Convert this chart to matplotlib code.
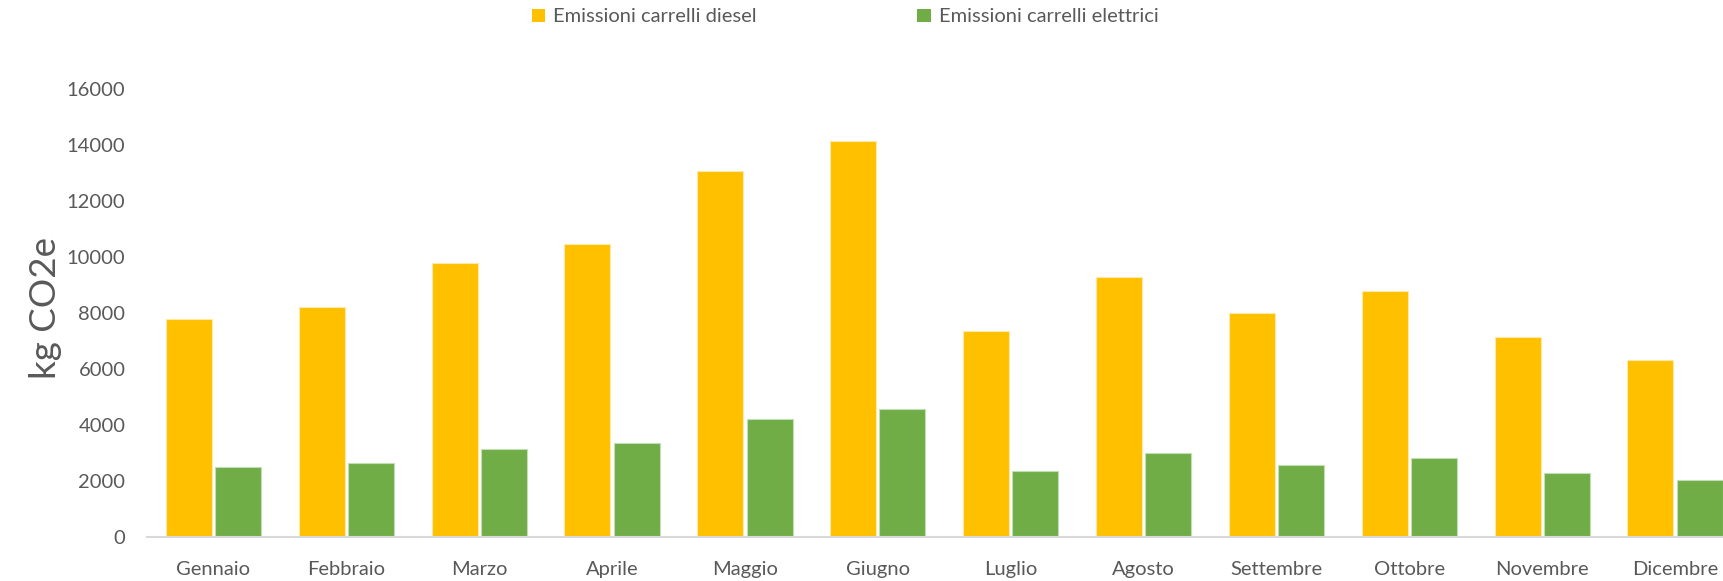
import numpy as np
import matplotlib.pyplot as plt
from matplotlib.patches import Patch

plt.rcParams['font.family'] = ['Lato', 'DejaVu Sans']

# monthly emissions (kg CO2e)
mesi = ['Gennaio', 'Febbraio', 'Marzo', 'Aprile', 'Maggio', 'Giugno',
        'Luglio', 'Agosto', 'Settembre', 'Ottobre', 'Novembre', 'Dicembre']
diesel = [7790, 8200, 9770, 10450, 13060, 14140, 7350, 9270, 7990, 8770, 7150, 6310]
elettrici = [2510, 2630, 3140, 3360, 4210, 4560, 2360, 2990, 2570, 2810, 2300, 2030]
yticks = [0, 2000, 4000, 6000, 8000, 10000, 12000, 14000, 16000]

giallo = '#FFC000'
verde = '#70AD47'
grigio = '#595959'

fig = plt.figure(figsize=(17.24, 5.81), dpi=100)
ax = fig.add_axes([147 / 1724, 1 - 537 / 581, (1741.5 - 147) / 1724, (537 - 89) / 581])

x = np.arange(len(mesi))
w = 0.346
off = 0.185
ax.bar(x - off, diesel, w, color=giallo, edgecolor='#FFE9A8', linewidth=0.8)
ax.bar(x + off, elettrici, w, color=verde, edgecolor='#C5DDB5', linewidth=0.8)

ax.set_xlim(-0.5, len(mesi) - 0.5)
ax.set_ylim(0, 16000)
ax.set_yticks(yticks)
ax.set_yticklabels([str(v) for v in yticks])
ax.set_xticks(x)
ax.set_xticklabels(mesi)

for s in ['top', 'right', 'left']:
    ax.spines[s].set_visible(False)
ax.spines['bottom'].set_color('#D9D9D9')
ax.spines['bottom'].set_linewidth(1.5)
ax.tick_params(axis='both', length=0, labelsize=14.5, labelcolor=grigio)
ax.tick_params(axis='y', pad=15.5)
ax.tick_params(axis='x', pad=17)

fig.text(46 / 1724, 1 - 308 / 581, 'kg CO2e', rotation=90, fontsize=26.5,
         color=grigio, ha='center', va='center')

handles = [Patch(facecolor=giallo, label='Emissioni carrelli diesel'),
           Patch(facecolor=verde, label='Emissioni carrelli elettrici')]
fig.legend(handles=handles, loc='center', bbox_to_anchor=(845 / 1724, 1 - 17 / 581),
           ncol=2, frameon=False, fontsize=14.5, labelcolor=grigio,
           handlelength=0.65, handleheight=0.65, handletextpad=0.4,
           columnspacing=8.0, borderpad=0)

fig.savefig('out.png', dpi=100)
